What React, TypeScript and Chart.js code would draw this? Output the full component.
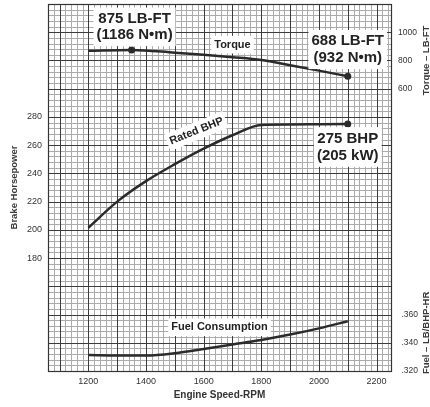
import { useEffect, useRef } from "react";
import { Chart, registerables } from "chart.js";

Chart.register(...registerables);

// Engine speed axis labels and value-axis labels
const rpmTicks = [1200, 1400, 1600, 1800, 2000, 2200];
const hpTicks = [180, 200, 220, 240, 260, 280];
const torqueTicks = [600, 800, 1000];
const fuelTicks = [0.32, 0.34, 0.36];

// Rated brake horsepower curve
const hpRpm = [1200, 1300, 1400, 1500, 1600, 1700, 1800, 1900, 2000, 2100];
const hpValues = [201.5, 220, 234.5, 246.5, 257.5, 267, 274.3, 274.6, 274.8, 275];

// Torque curve (lb-ft)
const torqueRpm = [1200, 1350, 1500, 1600, 1700, 1800, 1900, 2000, 2100];
const torqueValues = [869, 875, 855, 840, 823, 803, 766, 728, 688];

// Fuel consumption curve (lb/bhp-hr)
const fuelRpm = [1200, 1300, 1400, 1500, 1600, 1700, 1800, 1900, 2000, 2100];
const fuelValues = [0.3313, 0.331, 0.331, 0.3326, 0.3356, 0.3388, 0.342, 0.3458, 0.3502, 0.3553];

// Highlighted points
const torqueMarked = [1350, 2100];
const hpMarked = [2100];

// Callout texts
const peakTorqueText = ["875 LB-FT", "(1186 N\u2022m)"];
const ratedTorqueText = ["688 LB-FT", "(932 N\u2022m)"];
const ratedPowerText = ["275 BHP", "(205 kW)"];
const torqueCaption = "Torque";
const powerCaption = "Rated BHP";
const fuelCaption = "Fuel Consumption";

const FONT = "'Liberation Sans', Arial, Helvetica, sans-serif";
const INK = "#2b2b2b";
const RPM_MIN = 1060;
const RPM_MAX = 2250;

const toPoints = (xs: number[], ys: number[]) => xs.map((x, i) => ({ x, y: ys[i] }));

const paperGrid = {
  id: "paperGrid",
  beforeDatasetsDraw(chart: any) {
    const { ctx, chartArea: a, scales } = chart;
    const xs = scales.x;
    const ys = scales.hp;
    ctx.save();
    ctx.beginPath();
    ctx.rect(a.left, a.top, a.right - a.left, a.bottom - a.top);
    ctx.clip();
    const drawSet = (major: boolean) => {
      ctx.beginPath();
      for (let v = RPM_MIN; v <= xs.max + 0.001; v += 20) {
        if ((v % 100 === 0) !== major) continue;
        const p = Math.round(xs.getPixelForValue(v)) + 0.5;
        ctx.moveTo(p, a.top);
        ctx.lineTo(p, a.bottom);
      }
      for (let v = ys.min; v <= ys.max + 0.001; v += 4) {
        if ((v % 20 === 0) !== major) continue;
        const p = Math.round(ys.getPixelForValue(v)) + 0.5;
        ctx.moveTo(a.left, p);
        ctx.lineTo(a.right, p);
      }
      ctx.stroke();
    };
    ctx.lineWidth = 1;
    ctx.strokeStyle = "#ababab";
    drawSet(false);
    ctx.strokeStyle = "#3c3c3c";
    drawSet(true);
    ctx.restore();
    ctx.save();
    ctx.strokeStyle = "#333";
    ctx.lineWidth = 1.2;
    ctx.strokeRect(Math.round(a.left) + 0.5, Math.round(a.top) + 0.5, Math.round(a.right - a.left), Math.round(a.bottom - a.top));
    ctx.restore();
  },
};

function boxedLines(ctx: CanvasRenderingContext2D, lines: string[], cx: number, cys: number[], font: string, size: number) {
  ctx.save();
  ctx.font = font;
  const w = Math.max(...lines.map((t) => ctx.measureText(t).width));
  const top = cys[0] - size * 0.62;
  const bottom = cys[cys.length - 1] + size * 0.62;
  ctx.fillStyle = "#ffffff";
  ctx.fillRect(cx - w / 2 - 3, top - 2, w + 6, bottom - top + 4);
  ctx.fillStyle = "#222";
  ctx.textAlign = "center";
  ctx.textBaseline = "middle";
  lines.forEach((t, i) => ctx.fillText(t, cx, cys[i]));
  ctx.restore();
}

function verticalTitle(ctx: CanvasRenderingContext2D, text: string, x: number, y: number) {
  ctx.save();
  ctx.font = `bold 9.5px ${FONT}`;
  ctx.fillStyle = "#3a3a3a";
  ctx.textAlign = "center";
  ctx.textBaseline = "middle";
  ctx.translate(x, y);
  ctx.rotate(-Math.PI / 2);
  ctx.fillText(text, 0, 0);
  ctx.restore();
}

const callouts = {
  id: "callouts",
  afterDatasetsDraw(chart: any) {
    const { ctx, scales } = chart;
    const xs = scales.x;
    const big = `bold 15px ${FONT}`;
    const small = `bold 11px ${FONT}`;

    // Peak torque
    let px = xs.getPixelForValue(torqueMarked[0]);
    let py = scales.torque.getPixelForValue(torqueValues[torqueRpm.indexOf(torqueMarked[0])]);
    boxedLines(ctx, peakTorqueText, px + 3, [py - 31, py - 15], big, 15);

    // Rated torque
    px = xs.getPixelForValue(torqueMarked[1]);
    py = scales.torque.getPixelForValue(torqueValues[torqueValues.length - 1]);
    boxedLines(ctx, ratedTorqueText, px, [py - 35, py - 18.5], big, 15);

    // Rated power
    px = xs.getPixelForValue(hpMarked[0]);
    py = scales.hp.getPixelForValue(hpValues[hpValues.length - 1]);
    boxedLines(ctx, ratedPowerText, px, [py + 14.5, py + 31.5], big, 15);

    // Curve captions
    boxedLines(ctx, [torqueCaption], xs.getPixelForValue(1700), [scales.torque.getPixelForValue(912)], small, 11);
    boxedLines(ctx, [fuelCaption], xs.getPixelForValue(1655), [scales.fuel.getPixelForValue(0.351)], small, 11);

    ctx.save();
    ctx.translate(xs.getPixelForValue(1575), scales.hp.getPixelForValue(270));
    ctx.rotate((-22 * Math.PI) / 180);
    boxedLines(ctx, [powerCaption], 0, [0], small, 11);
    ctx.restore();

    // Right-hand axis titles, reading bottom to top
    const tx = chart.width - 4;
    verticalTitle(ctx, "Torque \u2013 LB-FT", tx, scales.torque.getPixelForValue(800));
    verticalTitle(ctx, "Fuel \u2013 LB/BHP-HR", tx, scales.fuel.getPixelForValue(0.347));
  },
};

const fixedScale = (size: number, horizontal: boolean) => (s: any) => {
  if (horizontal) {
    s.height = size;
    s.paddingLeft = 0;
    s.paddingRight = 0;
  } else {
    s.width = size;
    s.paddingTop = 0;
    s.paddingBottom = 0;
  }
};

const tickFont = { family: FONT, size: 9 };

export default function App() {
  const ref = useRef<HTMLCanvasElement | null>(null);

  useEffect(() => {
    if (!ref.current) return;
    const curve = (data: any[], axis: string, marked: number[]) => ({
      data,
      yAxisID: axis,
      xAxisID: "x",
      borderColor: INK,
      borderWidth: 2.5,
      backgroundColor: INK,
      cubicInterpolationMode: "monotone" as const,
      pointRadius: (c: any) => (c.raw && marked.includes(c.raw.x) ? 3.5 : 0),
      pointBackgroundColor: INK,
      pointBorderWidth: 0,
      fill: false,
    });

    const chart = new Chart(ref.current, {
      type: "line",
      data: {
        datasets: [
          curve(toPoints(torqueRpm, torqueValues), "torque", torqueMarked),
          curve(toPoints(hpRpm, hpValues), "hp", hpMarked),
          curve(toPoints(fuelRpm, fuelValues), "fuel", []),
        ],
      },
      options: {
        animation: false,
        responsive: false,
        devicePixelRatio: 1,
        layout: { padding: { top: 2, left: 0, right: 0, bottom: 0 } },
        plugins: { legend: { display: false }, tooltip: { enabled: false } },
        scales: {
          x: {
            type: "linear",
            position: "bottom",
            min: RPM_MIN,
            max: RPM_MAX,
            grid: { display: false, drawTicks: false },
            border: { display: false },
            ticks: { font: tickFont, color: "#333", padding: 5, maxRotation: 0, autoSkip: false, callback: (v: any) => String(v) },
            afterBuildTicks: (s: any) => {
              s.ticks = rpmTicks.map((value) => ({ value }));
            },
            afterFit: fixedScale(36, true),
            title: {
              display: true,
              text: "Engine Speed-RPM",
              color: "#333",
              font: { family: FONT, size: 10, weight: "bold" },
              padding: { top: 0, bottom: 6 },
            },
          },
          hp: {
            type: "linear",
            position: "left",
            min: 100,
            max: 360,
            grid: { display: false, drawTicks: false },
            border: { display: false },
            ticks: { font: tickFont, color: "#333", padding: 6, autoSkip: false, callback: (v: any) => String(v) },
            afterBuildTicks: (s: any) => {
              s.ticks = hpTicks.map((value) => ({ value }));
            },
            afterFit: fixedScale(48, false),
            title: {
              display: true,
              text: "Brake Horsepower",
              color: "#3a3a3a",
              font: { family: FONT, size: 9.5, weight: "bold" },
              padding: { top: 9, bottom: 0 },
            },
          },
          torque: {
            type: "linear",
            position: "right",
            weight: 0,
            min: -1400,
            max: 1200,
            grid: { display: false, drawTicks: false },
            border: { display: false },
            ticks: { font: { family: FONT, size: 8.5 }, color: "#333", padding: 7, autoSkip: false, callback: (v: any) => String(v) },
            afterBuildTicks: (s: any) => {
              s.ticks = torqueTicks.map((value) => ({ value }));
            },
            afterFit: fixedScale(39, false),
          },
          fuel: {
            type: "linear",
            position: "right",
            weight: 1,
            min: 0.32,
            max: 0.58,
            grid: { display: false, drawTicks: false },
            border: { display: false },
            ticks: {
              font: { family: FONT, size: 8.5 },
              color: "#333",
              mirror: true,
              padding: -12,
              autoSkip: false,
              callback: (v: any) => Number(v).toFixed(3).replace(/^0/, ""),
            },
            afterBuildTicks: (s: any) => {
              s.ticks = fuelTicks.map((value) => ({ value }));
            },
            afterFit: fixedScale(0, false),
          },
        },
      } as any,
      plugins: [paperGrid, callouts],
    });
    return () => chart.destroy();
  }, []);

  return (
    <div style={{ position: "fixed", left: 0, top: 0, width: 430, height: 407, background: "#fff" }}>
      <canvas ref={ref} width={430} height={407} style={{ display: "block" }} />
    </div>
  );
}
